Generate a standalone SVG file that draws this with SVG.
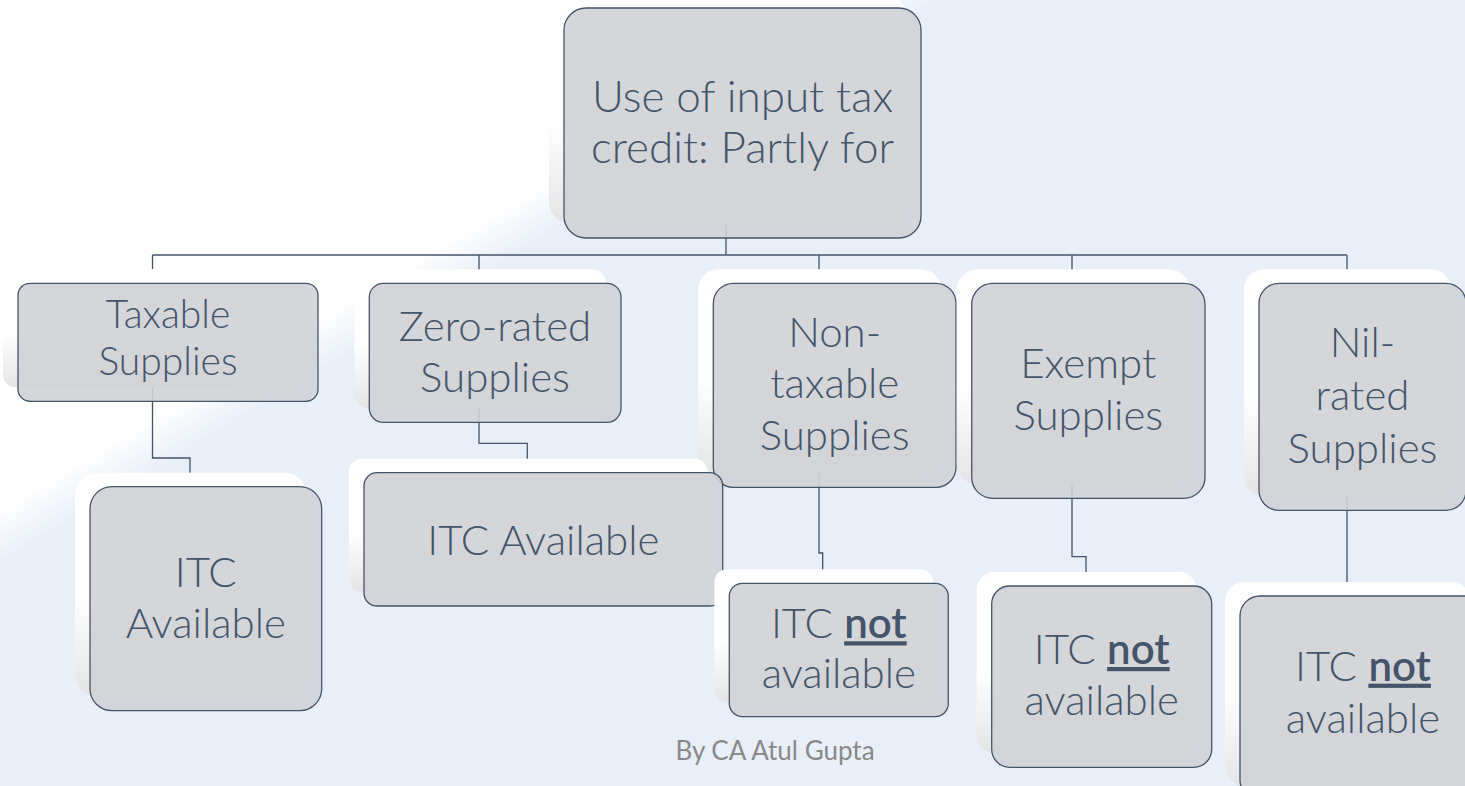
<svg xmlns="http://www.w3.org/2000/svg" width="1465" height="786" viewBox="0 0 1465 786">
<defs>
<linearGradient id="bg" gradientUnits="userSpaceOnUse" x1="214" y1="380" x2="238" y2="420">
<stop offset="0" stop-color="#FFFFFF"/>
<stop offset="1" stop-color="#E9EFF9"/>
</linearGradient>
<linearGradient id="sh" x1="0" y1="0" x2="0" y2="1">
<stop offset="0" stop-color="#FFFFFF"/>
<stop offset="0.55" stop-color="#FFFFFF"/>
<stop offset="1" stop-color="#E4E4E4"/>
</linearGradient>
<style>
.sh{fill:url(#sh);}
.bx{fill:#CFD1D5;fill-opacity:0.9;stroke:#44546A;stroke-width:1.3;}
.t{font-family:Lato,"Open Sans",sans-serif;font-weight:300;fill:#44546A;text-anchor:middle;}
.t1{font-size:44px;}
.t2{font-size:42px;}
.t3{font-size:39px;}
.b{font-weight:600;text-decoration:underline;}
.cn{fill:none;stroke:#44546A;stroke-width:1.3;}
.ft{font-family:Lato,"Open Sans",sans-serif;font-size:26px;fill:#898989;text-anchor:middle;}
</style>
</defs>
<rect x="0" y="0" width="1465" height="786" fill="url(#bg)"/>
<g id="connectors">
<path class="cn" d="M726 200 V255"/>
<path class="cn" d="M152.5 255 H1347"/>
<path class="cn" d="M152.5 255 V283 M479 255 V283 M819 255 V283 M1072 255 V283 M1347 255 V283"/>
<path class="cn" d="M152.5 370 V458 H190 V487"/>
<path class="cn" d="M479 395 V443.3 H527.3 V473"/>
<path class="cn" d="M819 460 V553 H822.7 V583"/>
<path class="cn" d="M1072 470 V556.7 H1086 V586"/>
<path class="cn" d="M1347 480 V596"/>
</g>
<g id="n-root">
<rect class="sh" x="549" y="-6" width="357" height="230" rx="22"/>
<rect class="bx" x="564" y="8" width="357" height="230" rx="22"/>
<text class="t t1" x="742.5" y="111.7">Use of input tax</text>
<text class="t t1" x="742.5" y="163.3">credit: Partly for</text>
</g>
<g id="n-taxable">
<rect class="sh" x="3" y="269" width="300" height="118" rx="12"/>
<rect class="bx" x="18" y="283.3" width="300" height="118" rx="12"/>
<text class="t t3" x="168" y="328">Taxable</text>
<text class="t t3" x="168" y="375">Supplies</text>
</g>
<g id="n-zero">
<rect class="sh" x="354.3" y="269.3" width="251.7" height="139" rx="14"/>
<rect class="bx" x="369.3" y="283.3" width="251.7" height="139" rx="14"/>
<text class="t t2" x="495" y="340.7">Zero-rated</text>
<text class="t t2" x="495" y="391.7">Supplies</text>
</g>
<g id="n-nontaxable">
<rect class="sh" x="698.3" y="269.3" width="242.7" height="204" rx="20"/>
<rect class="bx" x="713.3" y="283.3" width="242.7" height="204" rx="20"/>
<text class="t t2" x="834.7" y="346.7">Non-</text>
<text class="t t2" x="834.7" y="398.3">taxable</text>
<text class="t t2" x="834.7" y="450">Supplies</text>
</g>
<g id="n-exempt">
<rect class="sh" x="956.7" y="269.3" width="233.3" height="215" rx="21"/>
<rect class="bx" x="971.7" y="283.3" width="233.3" height="215" rx="21"/>
<text class="t t2" x="1088.3" y="378.3">Exempt</text>
<text class="t t2" x="1088.3" y="430">Supplies</text>
</g>
<g id="n-nil">
<rect class="sh" x="1244" y="269.3" width="207" height="227" rx="20"/>
<rect class="bx" x="1259" y="283.3" width="207" height="227" rx="20"/>
<text class="t t2" x="1362.5" y="357.3">Nil-</text>
<text class="t t2" x="1362.5" y="410">rated</text>
<text class="t t2" x="1362.5" y="462.7">Supplies</text>
</g>
<g id="n-itc1">
<rect class="sh" x="75" y="472.7" width="231.7" height="224" rx="22"/>
<rect class="bx" x="90" y="486.7" width="231.7" height="224" rx="22"/>
<text class="t t2" x="205.8" y="586.7">ITC</text>
<text class="t t2" x="205.8" y="638.3">Available</text>
</g>
<g id="n-itc2">
<rect class="sh" x="349" y="458.7" width="358.7" height="133.3" rx="13"/>
<rect class="bx" x="364" y="472.7" width="358.7" height="133.3" rx="13"/>
<text class="t t2" x="543.3" y="555">ITC Available</text>
</g>
<g id="n-itc3">
<rect class="sh" x="714.3" y="569.3" width="219" height="133.3" rx="13"/>
<rect class="bx" x="729.3" y="583.3" width="219" height="133.3" rx="13"/>
<text class="t t2" x="838.8" y="638.3">ITC <tspan class="b">not</tspan></text>
<text class="t t2" x="838.8" y="688.3">available</text>
</g>
<g id="n-itc4">
<rect class="sh" x="976.7" y="572" width="220" height="181.3" rx="18"/>
<rect class="bx" x="991.7" y="586" width="220" height="181.3" rx="18"/>
<text class="t t2" x="1101.7" y="664">ITC <tspan class="b">not</tspan></text>
<text class="t t2" x="1101.7" y="715">available</text>
</g>
<g id="n-itc5">
<rect class="sh" x="1225" y="582" width="246" height="204" rx="20"/>
<rect class="bx" x="1240" y="596" width="246" height="204" rx="20"/>
<text class="t t2" x="1363" y="680.7">ITC <tspan class="b">not</tspan></text>
<text class="t t2" x="1363" y="732.7">available</text>
</g>
<text class="ft" x="775" y="760">By CA Atul Gupta</text>
</svg>
